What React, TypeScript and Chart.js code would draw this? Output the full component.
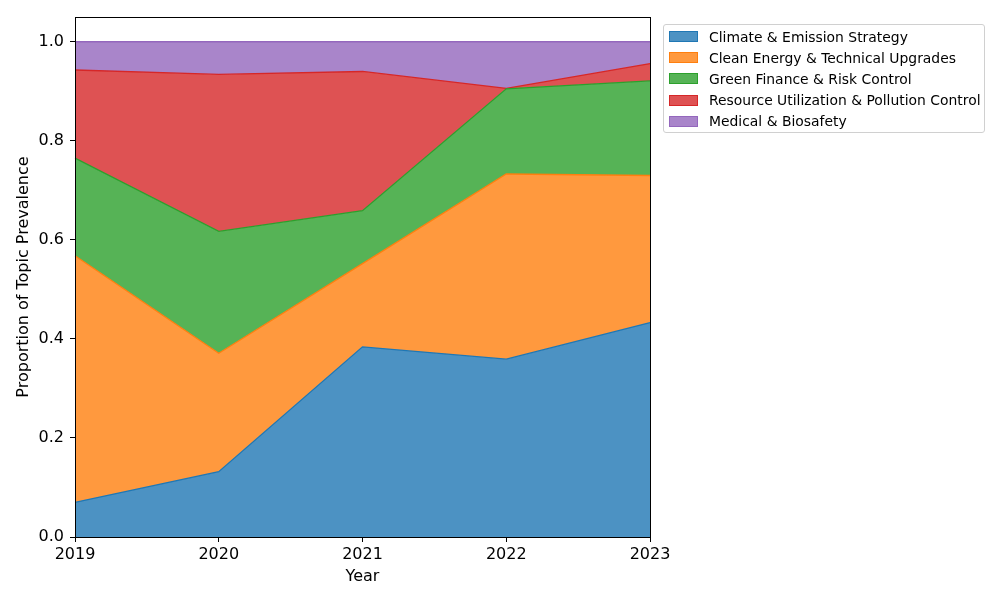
import React, { useEffect, useRef } from "react";
import { Chart, registerables } from "chart.js";

Chart.register(...registerables);

const years = ["2019", "2020", "2021", "2022", "2023"];
const yTicks = [0, 0.2, 0.4, 0.6, 0.8, 1.0];

const seriesNames = [
  "Climate & Emission Strategy",
  "Clean Energy & Technical Upgrades",
  "Green Finance & Risk Control",
  "Resource Utilization & Pollution Control",
  "Medical & Biosafety",
];

const climate = [0.070, 0.132, 0.384, 0.359, 0.433];
const cleanEnergy = [0.498, 0.239, 0.168, 0.374, 0.297];
const greenFinance = [0.197, 0.246, 0.107, 0.172, 0.191];
const resource = [0.178, 0.317, 0.281, 0.001, 0.035];
const medical = [0.057, 0.066, 0.060, 0.094, 0.044];

const seriesValues = [climate, cleanEnergy, greenFinance, resource, medical];

const lineColors = ["#1f77b4", "#ff7f0e", "#2ca02c", "#d62728", "#9467bd"];
const fillColors = [
  "rgba(31,119,180,0.8)",
  "rgba(255,127,14,0.8)",
  "rgba(44,160,44,0.8)",
  "rgba(214,39,40,0.8)",
  "rgba(148,103,189,0.8)",
];

const FONT = "'DejaVu Sans', sans-serif";

const framePlugin = {
  id: "frame",
  afterDatasetsDraw(chart: any) {
    const { ctx, chartArea } = chart;
    ctx.save();
    ctx.strokeStyle = "#000";
    ctx.lineWidth = 1;
    ctx.strokeRect(
      Math.round(chartArea.left) + 0.5,
      Math.round(chartArea.top) + 0.5,
      Math.round(chartArea.right - chartArea.left),
      Math.round(chartArea.bottom - chartArea.top)
    );
    ctx.restore();
  },
};

export default function App() {
  const canvasRef = useRef<HTMLCanvasElement | null>(null);

  useEffect(() => {
    if (!canvasRef.current) return;
    const datasets = seriesValues.map((vals, i) => ({
      label: seriesNames[i],
      data: vals,
      borderColor: lineColors[i],
      backgroundColor: fillColors[i],
      borderWidth: 1.3,
      pointRadius: 0,
      tension: 0,
      fill: i === 0 ? "origin" : "-1",
    }));
    const chart = new Chart(canvasRef.current, {
      type: "line",
      data: { labels: years, datasets: datasets as any },
      plugins: [framePlugin],
      options: {
        animation: false,
        responsive: false,
        maintainAspectRatio: false,
        devicePixelRatio: 1,
        layout: { padding: { left: 0, right: 350, top: 17, bottom: 0 } },
        plugins: {
          legend: { display: false },
          tooltip: { enabled: false },
        },
        scales: {
          x: {
            type: "category",
            offset: false,
            grid: {
              offset: false,
              drawOnChartArea: false,
              drawTicks: true,
              tickLength: 5,
              color: "#000",
            },
            border: { display: false },
            ticks: {
              color: "#000",
              padding: 3,
              maxRotation: 0,
              font: { family: FONT, size: 16 },
            },
            title: {
              display: true,
              text: "Year",
              color: "#000",
              font: { family: FONT, size: 16 },
              padding: { top: 0, bottom: 14 },
            },
            afterFit: (scale: any) => {
              scale.height = 63;
            },
          },
          y: {
            type: "linear",
            stacked: true,
            min: 0,
            max: 1.05,
            grid: {
              drawOnChartArea: false,
              drawTicks: true,
              tickLength: 5,
              color: "#000",
            },
            border: { display: false },
            ticks: {
              color: "#000",
              padding: 6,
              font: { family: FONT, size: 16 },
              callback: (v: any) => Number(v).toFixed(1),
            },
            afterBuildTicks: (scale: any) => {
              scale.ticks = yTicks.map((v) => ({ value: v }));
            },
            title: {
              display: true,
              text: "Proportion of Topic Prevalence",
              color: "#000",
              font: { family: FONT, size: 16 },
              padding: { top: 14, bottom: 0 },
            },
            afterFit: (scale: any) => {
              scale.width = 75;
            },
          },
        },
      },
    });
    return () => chart.destroy();
  }, []);

  return (
    <div style={{ position: "fixed", left: 0, top: 0, width: 1000, height: 600, background: "#fff" }}>
      <canvas ref={canvasRef} width={1000} height={600} style={{ width: 1000, height: 600, display: "block" }} />
      <div
        style={{
          position: "absolute",
          left: 663,
          top: 24,
          width: 320,
          height: 107,
          border: "1px solid #d0d0d0",
          borderRadius: 3,
          background: "rgba(255,255,255,0.8)",
          fontFamily: FONT,
          fontSize: 13.9,
          color: "#000",
          boxSizing: "content-box",
        }}
      >
        {seriesNames.map((name, i) => (
          <div
            key={name}
            style={{
              position: "absolute",
              left: 5,
              top: 11.7 + i * 21.1 - 10,
              height: 20,
              display: "flex",
              alignItems: "center",
              whiteSpace: "nowrap",
            }}
          >
            <span
              style={{
                display: "inline-block",
                width: 27,
                height: 9,
                background: fillColors[i],
                border: `1px solid ${lineColors[i]}`,
                marginRight: 11,
              }}
            />
            <span>{name}</span>
          </div>
        ))}
      </div>
    </div>
  );
}
